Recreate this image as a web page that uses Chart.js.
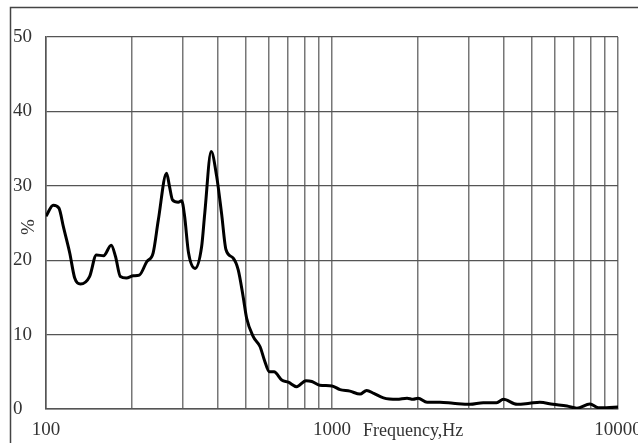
<!DOCTYPE html>
<html>
<head>
<meta charset="utf-8">
<script src="https://cdn.jsdelivr.net/npm/chart.js@4/dist/chart.umd.min.js"></script>
<style>
html,body{margin:0;padding:0;background:#fff;}
#wrap{width:638px;height:443px;position:relative;}
</style>
</head>
<body>
<div id="wrap"><canvas id="c" width="638" height="443"></canvas></div>
<script>
// Frequency (Hz) and response (%)
const freqs = [100,106,111,115,121,126,132,142,150,159,169,175,182,191,202,212,225,237,247,264,270,277,290,298,305,315,332,350,359,378,395,411,426,451,470,489,503,531,560,580,604,627,667,704,752,811,850,906,1000,1067,1155,1253,1322,1400,1513,1686,1830,1920,2000,2150,2385,2650,3036,3380,3762,3976,4440,4910,5330,5920,6630,7180,7980,8530,9100,10000];
const values = [25.9,27.4,27.0,24.5,21.0,17.6,16.8,17.8,20.7,20.6,22.0,20.5,17.8,17.6,17.9,18.0,19.8,21.0,25.4,31.7,30.0,28.1,27.8,28.0,26.0,21.0,18.9,21.8,26.3,34.6,31.3,26.3,21.4,20.3,18.7,15.1,12.2,9.7,8.4,6.6,5.0,5.0,3.9,3.6,3.0,3.8,3.7,3.2,3.1,2.6,2.4,2.0,2.5,2.1,1.5,1.3,1.45,1.3,1.45,0.9,0.9,0.77,0.63,0.85,0.85,1.3,0.63,0.77,0.9,0.63,0.4,0.1,0.67,0.18,0.18,0.27];
const xGrid = [100,200,300,400,500,600,700,800,900,1000,2000,3000,4000,5000,6000,7000,8000,9000,10000];
const xTickLabels = [100,1000,10000];
const yTicks = [0,10,20,30,40,50];
const xTitle = 'Frequency,Hz';
const yTitle = '%';

const FONT = '"Liberation Serif", "DejaVu Serif", serif';

const decor = {
  id: 'decor',
  beforeDraw(chart) {
    const ctx = chart.ctx;
    ctx.save();
    ctx.strokeStyle = '#444';
    ctx.lineWidth = 1.5;
    ctx.beginPath();
    ctx.moveTo(10.5, 443);
    ctx.lineTo(10.5, 7.5);
    ctx.lineTo(638, 7.5);
    ctx.stroke();
    ctx.restore();
  },
  afterDraw(chart) {
    const ctx = chart.ctx;
    const xs = chart.scales.x;
    ctx.save();
    ctx.fillStyle = '#333';
    ctx.font = '18px ' + FONT;
    ctx.textAlign = 'left';
    ctx.textBaseline = 'middle';
    ctx.fillText(xTitle, xs.getPixelForValue(1000) + 31, 431);
    ctx.translate(29, 227);
    ctx.rotate(-Math.PI / 2);
    ctx.textAlign = 'center';
    ctx.font = '19px ' + FONT;
    ctx.fillText(yTitle, 0, 0);
    ctx.restore();
  }
};

new Chart(document.getElementById('c'), {
  type: 'line',
  data: {
    datasets: [{
      data: freqs.map((f, i) => ({x: f, y: values[i]})),
      borderColor: '#000',
      borderWidth: 3,
      pointRadius: 0,
      cubicInterpolationMode: 'monotone',
      fill: false
    }]
  },
  options: {
    responsive: false,
    animation: false,
    events: [],
    layout: { padding: { left: 13, top: 37, right: 20, bottom: 0 } },
    plugins: { legend: { display: false }, tooltip: { enabled: false } },
    scales: {
      x: {
        type: 'logarithmic',
        min: 100,
        max: 10000,
        afterBuildTicks(scale) { scale.ticks = xGrid.map(v => ({value: v})); },
        afterFit(scale) { scale.paddingLeft = 0; scale.paddingRight = 0; scale.height = 34; },
        grid: { color: '#777', lineWidth: 1.5, drawTicks: false },
        border: { display: true, color: '#555', width: 1.5 },
        ticks: {
          autoSkip: false,
          maxRotation: 0,
          padding: 10,
          color: '#333',
          font: { family: FONT, size: 19 },
          callback: (v) => xTickLabels.includes(v) ? String(v) : ''
        }
      },
      y: {
        min: 0,
        max: 50,
        afterBuildTicks(scale) { scale.ticks = yTicks.map(v => ({value: v})); },
        afterFit(scale) { scale.width = 33; },
        grid: { color: '#555', lineWidth: 1.3, drawTicks: false },
        border: { display: true, color: '#555', width: 1.5 },
        ticks: {
          crossAlign: 'far',
          padding: 4,
          color: '#333',
          font: { family: FONT, size: 19 }
        }
      }
    }
  },
  plugins: [decor]
});
</script>
</body>
</html>
